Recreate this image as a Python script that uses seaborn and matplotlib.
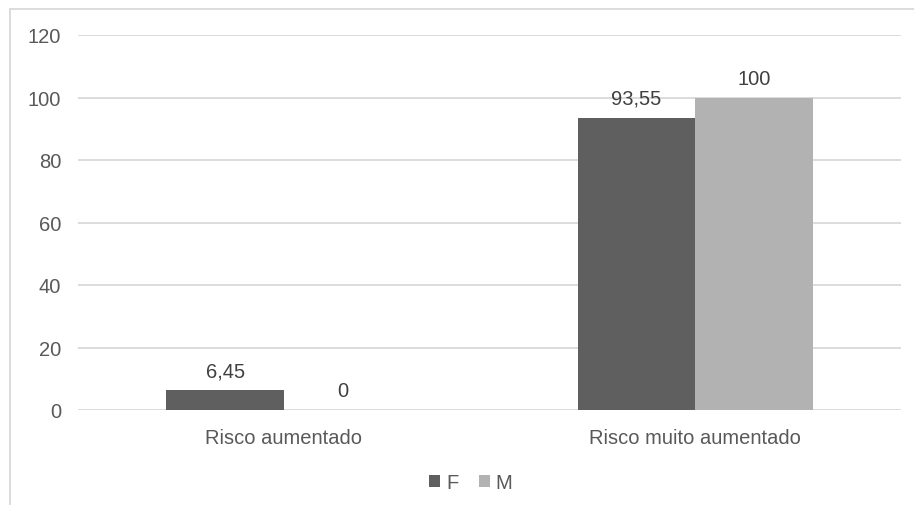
import matplotlib
matplotlib.use("Agg")
import matplotlib.pyplot as plt
from matplotlib.patches import Rectangle, Patch
import seaborn as sns
import pandas as pd

# Data
categories = ["Risco aumentado", "Risco muito aumentado"]
series = ["F", "M"]
values_f = [6.45, 93.55]
values_m = [0, 100]
value_labels_f = ["6,45", "93,55"]
value_labels_m = ["0", "100"]
yticks = [0, 20, 40, 60, 80, 100, 120]

df = pd.DataFrame({
    "categoria": categories * 2,
    "sexo": ["F"] * len(categories) + ["M"] * len(categories),
    "valor": values_f + values_m,
})
labels = value_labels_f + value_labels_m

sns.set_theme(style="white")
plt.rcParams["font.family"] = ["Liberation Sans", "DejaVu Sans"]

text_color = "#595959"
grid_color = "#d9d9d9"
colors = {"F": "#5f5f5f", "M": "#b2b2b2"}
fs = 14.5

fig = plt.figure(figsize=(9.14, 5.06), dpi=100)
ax = fig.add_axes([78 / 914, 1 - 411 / 506, (901 - 78) / 914, 375 / 506])

sns.barplot(data=df, x="categoria", y="valor", hue="sexo", order=categories,
            hue_order=series, palette=colors, width=0.57, saturation=1,
            edgecolor="none", linewidth=0, ax=ax, legend=False)

ax.set_ylim(0, 120)
ax.set_yticks(yticks)
ax.set_yticklabels([str(t) for t in yticks])
ax.yaxis.grid(True, color=grid_color, linewidth=1.3)
ax.set_axisbelow(True)
for s in ax.spines.values():
    s.set_visible(False)
ax.set_xlabel("")
ax.set_ylabel("")
ax.tick_params(axis="y", length=0, pad=12, labelsize=fs, labelcolor=text_color)
ax.tick_params(axis="x", length=0, pad=13, labelsize=fs, labelcolor=text_color)

# value labels above bars
bars = [p for c in ax.containers for p in c]
for bar, lab in zip(bars, labels):
    ax.annotate(lab, (bar.get_x() + bar.get_width() / 2, bar.get_height()),
                xytext=(0, 7), textcoords="offset points", ha="center",
                va="bottom", fontsize=fs, color="#404040")

handles = [Patch(facecolor=colors[s], edgecolor="none", label=s) for s in series]
fig.legend(handles=handles, loc="center", bbox_to_anchor=(0.515, 1 - 484 / 506),
           ncol=2, frameon=False, fontsize=fs, labelcolor=text_color,
           handlelength=0.55, handleheight=0.55, handletextpad=0.3,
           columnspacing=1.0)

# chart frame
fig.patches.append(Rectangle((10 / 914, -0.05), 1.1, 1 - 10 / 506 + 0.05,
                             transform=fig.transFigure, fill=False,
                             edgecolor=grid_color, linewidth=1.3))

fig.savefig("out.png", dpi=100)
